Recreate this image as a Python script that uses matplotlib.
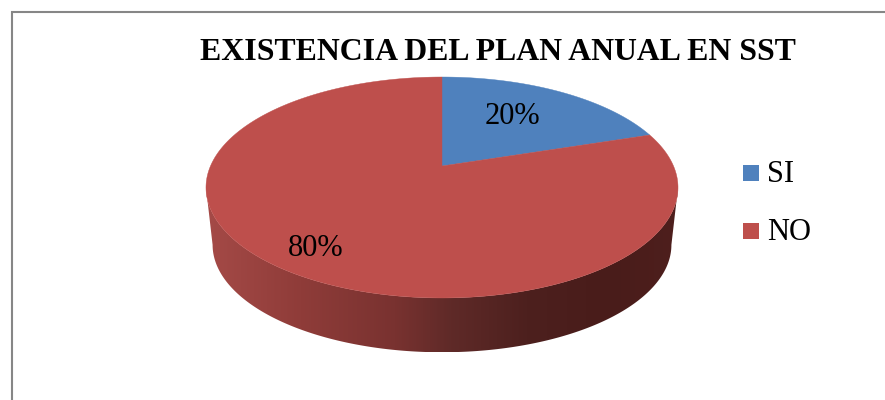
import numpy as np
import matplotlib
matplotlib.use("Agg")
import matplotlib.pyplot as plt
from matplotlib.colors import LinearSegmentedColormap
from matplotlib.patches import Polygon, Rectangle

title = "EXISTENCIA DEL PLAN ANUAL EN SST"
categories = ["SI", "NO"]
values = [20, 80]
colors = ["#4F81BD", "#BE4F4C"]

plt.rcParams["font.family"] = ["Liberation Serif", "DejaVu Serif"]

# pie geometry, in pixels of the 885x400 picture
cx = 442
top_cy = 166
rim_cy = 224
rim_scale = 0.972
tilt = 0.1945
rx = 231.5
ry = 106.3


def project(t, cy, scale=1.0):
    # t is clockwise from 12 o'clock, circle seen in perspective
    d = 1 + tilt * np.cos(t)
    return cx + scale * rx * np.sin(t) / d, cy - scale * ry * np.cos(t) / d


fig = plt.figure(figsize=(8.85, 4), dpi=100)
ax = fig.add_axes([0, 0, 1, 1])

# side of the pie, shaded left to right
tilt_t = np.arccos(-tilt)
t_side = np.linspace(tilt_t, 2 * np.pi - tilt_t, 300)
x1, y1 = project(t_side, top_cy)
x2, y2 = project(t_side, rim_cy, rim_scale)
side = Polygon(np.column_stack([np.r_[x1, x2[::-1]], np.r_[y1, y2[::-1]]]),
               closed=True, fc="none", ec="none")
ax.add_patch(side)
shade = LinearSegmentedColormap.from_list("shade", [
    (0.0, "#A54A47"), (0.2, "#8F3C39"), (0.4, "#793230"),
    (0.52, "#5F2A28"), (0.68, "#4D201E"), (0.85, "#491C1A"), (1.0, "#4E1F1D")])
grad = ax.imshow(np.linspace(0, 1, 256).reshape(1, -1), cmap=shade, aspect="auto",
                 extent=(206, 678, 352, 186), zorder=1)
grad.set_clip_path(side)

# top of the pie, slices start at 12 o'clock going clockwise
start = 0
for value, color in zip(values, colors):
    sweep = 2 * np.pi * value / sum(values)
    t = np.linspace(start, start + sweep, 300)
    x, y = project(t, top_cy)
    ax.add_patch(Polygon(np.column_stack([np.r_[cx, x], np.r_[top_cy, y]]),
                         closed=True, fc=color, ec=color, lw=0.3, zorder=2))
    start += sweep

ax.text(512, 117, f"{values[0]}%", fontsize=22, ha="center", va="center", zorder=3)
ax.text(316, 248, f"{values[1]}%", fontsize=22, ha="center", va="center", zorder=3)

ax.text(498, 53, title, fontsize=22.9, fontweight="bold", ha="center", va="center")

# legend
for name, color, ly in zip(categories, colors, [173, 231]):
    ax.add_patch(Rectangle((743, ly - 8), 16, 16, fc=color, ec="none"))
    ax.text(767, ly + 1, name, fontsize=22, ha="left", va="center")

# chart frame, only the top and left edges are in the crop
ax.plot([12, 12, 885], [400, 12, 12], color="#868686", lw=1.5, solid_joinstyle="miter")

ax.set_xlim(0, 885)
ax.set_ylim(400, 0)
ax.axis("off")
fig.savefig("out.png", dpi=100)
